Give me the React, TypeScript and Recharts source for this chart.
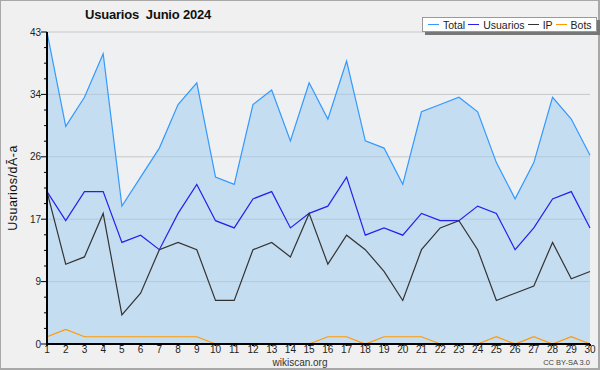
import { ComposedChart, Area, Line, XAxis, YAxis, CartesianGrid } from 'recharts';

const DAYS = [1, 2, 3, 4, 5, 6, 7, 8, 9, 10, 11, 12, 13, 14, 15, 16, 17, 18, 19, 20, 21, 22, 23, 24, 25, 26, 27, 28, 29, 30];
const TOTAL = [43, 30, 34, 40, 19, 23, 27, 33, 36, 23, 22, 33, 35, 28, 36, 31, 39, 28, 27, 22, 32, 33, 34, 32, 25, 20, 25, 34, 31, 26];
const USUARIOS = [21, 17, 21, 21, 14, 15, 13, 18, 22, 17, 16, 20, 21, 16, 18, 19, 23, 15, 16, 15, 18, 17, 17, 19, 18, 13, 16, 20, 21, 16];
const IP = [21, 11, 12, 18, 4, 7, 13, 14, 13, 6, 6, 13, 14, 12, 18, 11, 15, 13, 10, 6, 13, 16, 17, 13, 6, 7, 8, 14, 9, 10];
const BOTS = [1, 2, 1, 1, 1, 1, 1, 1, 1, 0, 0, 0, 0, 0, 0, 1, 1, 0, 1, 1, 1, 0, 0, 0, 1, 0, 1, 0, 1, 0];

// major y ticks (labels are rounded), 3 minor ticks between each pair
const Y_MAJOR = [0, 8.6, 17.2, 25.8, 34.4, 43];
const Y_TICKS = Y_MAJOR.flatMap((v, i) => {
    if (i === 0) return [v];
    const prev = Y_MAJOR[i - 1];
    const step = (v - prev) / 4;
    return [prev + step, prev + 2 * step, prev + 3 * step, v];
});

const LEGEND = [
    { name: 'Total', color: '#3399ff' },
    { name: 'Usuarios', color: '#2222ee' },
    { name: 'IP', color: '#333333' },
    { name: 'Bots', color: '#ff9900' },
];

const data = DAYS.map((d, i) => ({
    day: d,
    total: TOTAL[i],
    usuarios: USUARIOS[i],
    ip: IP[i],
    bots: BOTS[i],
}));

const FONT = '"Liberation Sans", Arial, sans-serif';

const YTick = (props: any) => {
    const { x, y, payload } = props;
    const major = Y_MAJOR.some(v => Math.abs(v - payload.value) < 1e-6);
    return (
        <g>
            <line x1={x} x2={x - (major ? 6 : 3)} y1={y} y2={y} stroke="#000" strokeWidth={1} />
            {major && (
                <text x={x - 6} y={y} dy={3.5} textAnchor="end" fontSize={10} fontFamily={FONT} fill="#222">
                    {Math.round(payload.value)}
                </text>
            )}
        </g>
    );
};

export default function App() {
    return (
        <div style={{ position: 'fixed', left: 0, top: 0, width: 600, height: 370, background: '#f0f0f0', fontFamily: FONT }}>
            <div style={{ position: 'absolute', inset: 0, border: '1px solid #a8a8a8', borderRightWidth: 2, borderBottomWidth: 2, pointerEvents: 'none' }} />
            <div style={{ position: 'absolute', left: 85, top: 7, fontSize: 13, fontWeight: 'bold', color: '#111', whiteSpace: 'pre', letterSpacing: -0.2 }}>
                {'Usuarios  Junio 2024'}
            </div>
            <ComposedChart width={600} height={370} data={data} margin={{ top: 32, right: 10, left: 0, bottom: 0 }}>
                <CartesianGrid vertical={false} horizontalValues={Y_MAJOR} stroke="#c8c8c8" fill="#eef0f2" />
                <Area type="linear" dataKey="total" stroke="#3399ff" strokeWidth={1.2} fill="#9ccaf0" fillOpacity={0.5} dot={false} isAnimationActive={false} />
                <Line type="linear" dataKey="usuarios" stroke="#2222ee" strokeWidth={1.2} dot={false} isAnimationActive={false} />
                <Line type="linear" dataKey="ip" stroke="#333333" strokeWidth={1.2} dot={false} isAnimationActive={false} />
                <Line type="linear" dataKey="bots" stroke="#ff9900" strokeWidth={1.2} dot={false} isAnimationActive={false} />
                <XAxis
                    dataKey="day"
                    type="number"
                    domain={[1, 30]}
                    ticks={DAYS}
                    interval={0}
                    height={26}
                    tickSize={2}
                    tickMargin={0}
                    stroke="#000"
                    strokeWidth={2}
                    tick={{ fontSize: 10, fontFamily: FONT, fill: '#222' }}
                />
                <YAxis
                    type="number"
                    domain={[0, 43]}
                    ticks={Y_TICKS}
                    interval={0}
                    width={47}
                    tickSize={0}
                    tickMargin={0}
                    tickLine={false}
                    stroke="#000"
                    strokeWidth={2}
                    tick={<YTick />}
                    label={{ value: 'Usuarios/dÃ-a', angle: -90, position: 'center', dx: -11, fontSize: 12.5, letterSpacing: 0.5, fontFamily: FONT, fill: '#111' }}
                />
            </ComposedChart>
            <div style={{
                position: 'absolute', left: 422, top: 17, height: 15, padding: '0 4px 0 2px', background: '#fff',
                border: '1px solid #999', boxShadow: '3px 3px 0 #777', display: 'flex', alignItems: 'center',
                fontSize: 10.5, color: '#222', whiteSpace: 'nowrap', boxSizing: 'border-box',
            }}>
                {LEGEND.map(l => (
                    <span key={l.name} style={{ display: 'flex', alignItems: 'center', marginLeft: 3 }}>
                        <span style={{ display: 'inline-block', width: 11, height: 1.2, background: l.color, marginRight: 4 }} />
                        {l.name}
                    </span>
                ))}
            </div>
            <div style={{ position: 'absolute', left: 250, width: 100, top: 358, lineHeight: '9px', textAlign: 'center', fontSize: 10, color: '#333' }}>
                wikiscan.org
            </div>
            <div style={{ position: 'absolute', right: 10, top: 359, lineHeight: '8px', fontSize: 7.5, color: '#444' }}>
                CC BY-SA 3.0
            </div>
        </div>
    );
}
